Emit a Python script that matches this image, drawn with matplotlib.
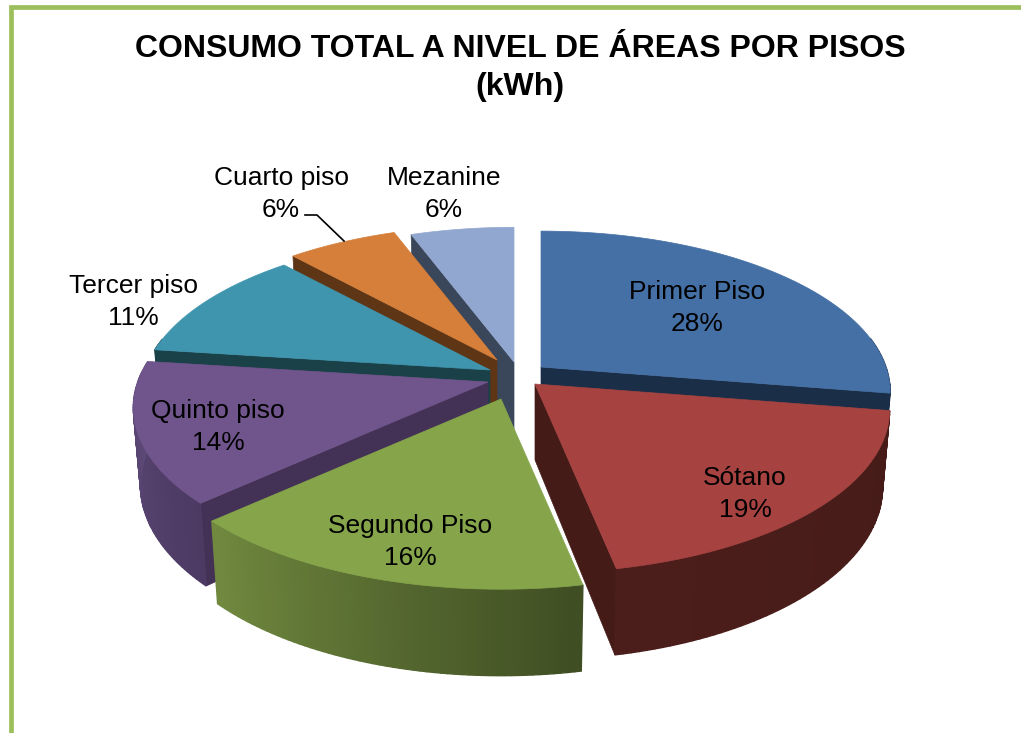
import matplotlib

matplotlib.use("Agg")
import matplotlib.pyplot as plt
from matplotlib.colors import to_rgb
from matplotlib.patches import Polygon
import numpy as np

plt.rcParams["font.family"] = ["Liberation Sans", "DejaVu Sans"]

TITLE = "CONSUMO TOTAL A NIVEL DE ÁREAS POR PISOS\n(kWh)"

# clockwise from 12 o'clock, shares of the total
names = ["Primer Piso", "Sótano", "Segundo Piso", "Quinto piso",
         "Tercer piso", "Cuarto piso", "Mezanine"]
values = [27.6, 19.25, 16.25, 14.0, 11.3, 6.0, 5.6]

top_colors = ["#4570A5", "#A64341", "#86A54B", "#70558C", "#3F95AE", "#D57F3A", "#92A7CF"]
wall_colors = ["#1B2E47", "#451B18", "#3F4E23", "#433255", "#1A4048", "#5E3616", "#3A4659"]
rim_start = ["#1B2E47", "#451B18", "#3F4E23", "#4C3A63", "#1A4048", "#5E3616", "#3A4659"]
rim_end = ["#1B2E47", "#4C1E1B", "#71893F", "#5F4A79", "#1A4048", "#5E3616", "#3A4659"]

# where each exploded slice has its tip, in pixels, and how far it reaches
tip_x = [541, 535, 501, 488, 490, 497, 514]
tip_y = [367, 384, 399, 382, 370, 360, 362]
reach = [0.98, 0.995, 1.0, 0.995, 0.98, 0.97, 0.97]
label_x = [697, 745, 410, 218, 133, 281, 444]
label_y = [308, 494, 542, 427, 302, 194, 194]

# painter's order, back to front
draw_order = [0, 6, 5, 4, 3, 1, 2]

RADIUS = 352
TILT = 0.455
PERSP = 0.158
HEIGHT = 76
BOTTOM_SHRINK = 0.98


def project(tx, ty, ang, r=1.0, bottom=False):
    """Pie plane to screen pixels, ang in degrees clockwise from the top."""
    a = np.radians(ang)
    px, py = r * np.sin(a), -r * np.cos(a)
    s = 1 / (1 - PERSP * py)
    x, y = px * s * RADIUS, py * s * RADIUS * TILT
    if bottom:
        return tx + x * BOTTOM_SHRINK, ty + y * BOTTOM_SHRINK + HEIGHT * s
    return tx + x, ty + y


def wall(ax, tx, ty, ang, r, color):
    pts = [project(tx, ty, ang, 0), project(tx, ty, ang, r),
           project(tx, ty, ang, r, bottom=True), project(tx, ty, ang, 0, bottom=True)]
    ax.add_patch(Polygon(pts, closed=True, fc=color, ec=color, lw=0.5))


def draw_slice(ax, i, a0, a1):
    tx, ty, r = tip_x[i], tip_y[i], reach[i]
    if a1 < 180:
        wall(ax, tx, ty, a1, r, wall_colors[i])
    if a0 > 180:
        wall(ax, tx, ty, a0, r, wall_colors[i])

    # rim, shaded along the arc
    angs = np.linspace(a0, a1, 60)
    c0, c1 = np.array(to_rgb(rim_start[i])), np.array(to_rgb(rim_end[i]))
    for j in range(len(angs) - 1):
        mid = (angs[j] + angs[j + 1]) / 2
        if -np.cos(np.radians(mid)) < -0.2:
            continue
        f = j / (len(angs) - 2)
        c = c0 + (c1 - c0) * f
        pts = [project(tx, ty, angs[j], r), project(tx, ty, angs[j + 1], r),
               project(tx, ty, angs[j + 1], r, bottom=True), project(tx, ty, angs[j], r, bottom=True)]
        ax.add_patch(Polygon(pts, closed=True, fc=c, ec=c, lw=1.0))

    top = [project(tx, ty, a0, 0)] + [project(tx, ty, a, r) for a in angs]
    ax.add_patch(Polygon(top, closed=True, fc=top_colors[i], ec=top_colors[i], lw=0.5))


fig = plt.figure(figsize=(10.21, 7.33), dpi=100)
ax = fig.add_axes([0, 0, 1, 1])
ax.set_xlim(0, 1021)
ax.set_ylim(733, 0)
ax.axis("off")

# chart frame, only the top and left sides show
ax.plot([10.5, 10.5, 1021], [733, 6.5, 6.5], color="#9DBF5B", lw=3.4, solid_joinstyle="miter")

edges = np.cumsum([0] + values) / sum(values) * 360
for i in draw_order:
    draw_slice(ax, i, edges[i], edges[i + 1])

ax.plot([305, 317, 344], [215, 215, 241], color="black", lw=1.2)

for i, name in enumerate(names):
    ax.text(label_x[i], label_y[i], f"{name}\n{round(values[i])}%", ha="center", va="center",
            fontsize=19, color="black", linespacing=1.4)

ax.text(520, 68, TITLE, ha="center", va="center", fontsize=23, fontweight="bold",
        color="black", linespacing=1.31)

fig.savefig("out.png", dpi=100)
plt.close(fig)
